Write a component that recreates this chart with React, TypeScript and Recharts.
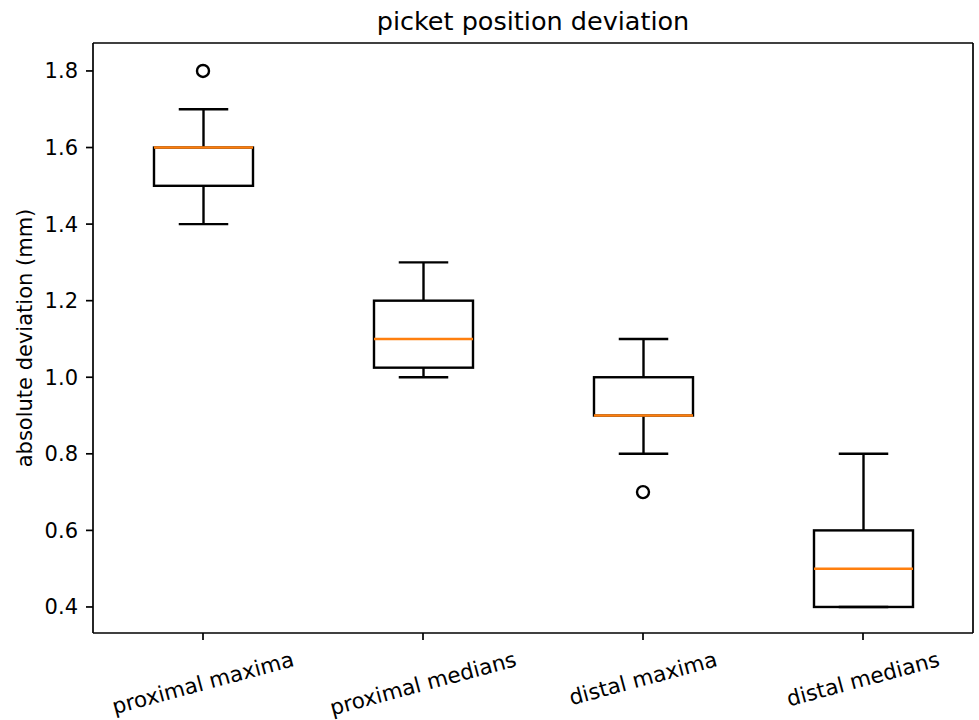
import React from "react"
import { Bar, ComposedChart, Scatter, XAxis, YAxis } from "recharts"

const groups = ["proximal maxima", "proximal medians", "distal maxima", "distal medians"]
const whiskerLow = [1.4, 1.0, 0.8, 0.4]
const quartile1 = [1.5, 1.025, 0.9, 0.4]
const medians = [1.6, 1.1, 0.9, 0.5]
const quartile3 = [1.6, 1.2, 1.0, 0.6]
const whiskerHigh = [1.7, 1.3, 1.1, 0.8]
const outliers: (number | null)[] = [1.8, null, 0.7, null]
const yTicks = [0.4, 0.6, 0.8, 1.0, 1.2, 1.4, 1.6, 1.8]

const data = groups.map((name, i) => ({
  name,
  lo: whiskerLow[i],
  q1: quartile1[i],
  med: medians[i],
  q3: quartile3[i],
  hi: whiskerHigh[i],
  outlier: outliers[i],
}))

const FONT = '"DejaVu Sans", sans-serif'
const yDomain: [number, number] = [0.332, 1.873]
const frame = { stroke: "#000", strokeWidth: 1.7 }

const ctx = typeof document !== "undefined" ? document.createElement("canvas").getContext("2d") : null
function textWidth(s: string, size: number) {
  if (ctx) {
    ctx.font = `${size}px "DejaVu Sans"`
    return ctx.measureText(s).width
  }
  return s.length * size * 0.58
}

function BoxShape(props: any) {
  const { x, y, width, height, payload } = props
  const { lo, q1, med, q3, hi } = payload
  const k = height / (hi - lo)
  const py = (v: number) => y + (hi - v) * k
  const cx = x + width / 2
  const capL = cx - width / 4
  const capR = cx + width / 4
  const s = { stroke: "#000", strokeWidth: 2.4 }
  return (
    <g>
      <line x1={cx} x2={cx} y1={py(hi)} y2={py(q3)} {...s} />
      <line x1={cx} x2={cx} y1={py(q1)} y2={py(lo)} {...s} />
      <line x1={capL} x2={capR} y1={py(hi)} y2={py(hi)} {...s} />
      <line x1={capL} x2={capR} y1={py(lo)} y2={py(lo)} {...s} />
      <rect x={x} y={py(q3)} width={width} height={py(q1) - py(q3)} fill="none" {...s} />
      <line x1={x} x2={x + width} y1={py(med)} y2={py(med)} stroke="#ff7f0e" strokeWidth={2.4} />
    </g>
  )
}

function OutlierShape(props: any) {
  const { cx, cy, payload } = props
  if (payload == null || payload.outlier == null || !isFinite(cy)) return <g />
  return <circle cx={cx} cy={cy} r={6} fill="none" stroke="#000" strokeWidth={2.4} />
}

function RotatedTick(props: any) {
  const { x, y, payload } = props
  const label = String(payload.value)
  const w = textWidth(label, 21.5)
  const a = (15 * Math.PI) / 180
  const h = w * Math.sin(a) + 24 * Math.cos(a)
  const cy = y + h / 2
  return (
    <text
      x={x}
      y={cy}
      textAnchor="middle"
      dominantBaseline="central"
      transform={`rotate(-15, ${x}, ${cy})`}
      fontFamily={FONT}
      fontSize={21.5}
      fill="#000"
    >
      {label}
    </text>
  )
}

export default function App() {
  return (
    <div style={{ position: "relative", width: 979, height: 720, background: "#fff" }}>
      <style>{`body{margin:0}`}</style>
      <ComposedChart width={979} height={720} data={data} margin={{ top: 42, right: 5, bottom: 0, left: 33 }}>
        <XAxis
          dataKey="name"
          interval={0}
          height={87}
          tick={RotatedTick}
          tickSize={7}
          tickMargin={7}
          tickLine={frame}
          axisLine={frame}
        />
        <XAxis xAxisId="top" orientation="top" dataKey="name" height={1} tick={false} tickLine={false} axisLine={frame} />
        <YAxis
          type="number"
          domain={yDomain}
          allowDataOverflow
          ticks={yTicks}
          width={60}
          tickSize={7}
          tickMargin={8}
          tickFormatter={(v: number) => v.toFixed(1)}
          tick={{ fill: "#000", fontSize: 21, fontFamily: FONT }}
          tickLine={frame}
          axisLine={frame}
        />
        <YAxis yAxisId="right" orientation="right" type="number" domain={yDomain} allowDataOverflow width={1} tick={false} tickLine={false} axisLine={frame} />
        <Bar dataKey={(d: any) => [d.lo, d.hi]} barSize={99} shape={BoxShape} isAnimationActive={false} />
        <Scatter dataKey="outlier" shape={OutlierShape} isAnimationActive={false} />
      </ComposedChart>
      <svg width={979} height={720} style={{ position: "absolute", left: 0, top: 0, pointerEvents: "none" }}>
        <text x={533} y={30} textAnchor="middle" fontFamily={FONT} fontSize={25.5} fill="#000">
          picket position deviation
        </text>
        <text x={32} y={338} textAnchor="middle" transform="rotate(-90, 32, 338)" fontFamily={FONT} fontSize={21} fill="#000">
          absolute deviation (mm)
        </text>
      </svg>
    </div>
  )
}
